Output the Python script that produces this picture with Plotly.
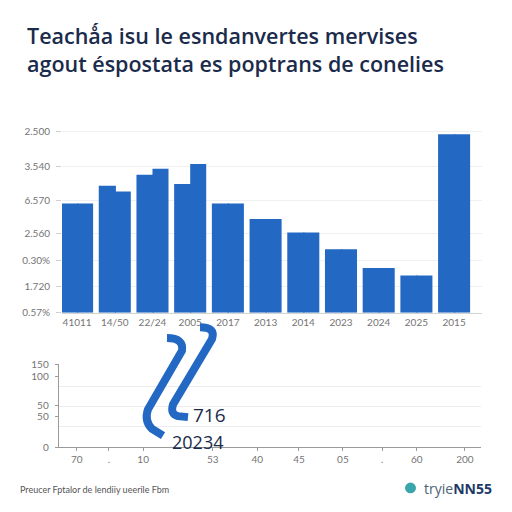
import plotly.graph_objects as go

W = H = 512

# ---- data ----
title_lines = ["Teachǻa isu le esndanvertes mervises",
               "agout éspostata es poptrans de conelies"]
top_categories = ["41011", "14/50", "22/24", "2005", "2017", "2013",
                  "2014", "2023", "2024", "2025", "2015"]
# left / right halves of each bar (equal for single bars)
top_left_values = [1505, 1752, 1902, 1775, 1505, 1292, 1105, 875, 617, 512, 2462]
top_right_values = [1505, 1672, 1987, 2050, 1505, 1292, 1105, 875, 617, 512, 2462]
top_ytick_vals = [0, 361, 720, 1099, 1550, 2013, 2500]
top_ytick_text = ["0.57%", "1.720", "0.30%", "2.560", "6.570", "3.540", "2.500"]

bottom_xtick_vals = [4.3, 11.9, 20.0, 36.5, 47.0, 56.9, 67.3, 76.6, 84.8, 96.2]
bottom_xtick_text = ["70", ".", "10", "53", "40", "45", "05", ".", "60", "200"]
bottom_ytick_vals = [0, 55.9, 75.9, 127.8, 150]
bottom_ytick_text = ["0", "50", "50", "100", "150"]
bottom_grid_vals = [36.5, 73.6, 110.1, 150]
bottom_notes = ["716", "20234"]
footer_text = "Preucer Fptalor de lendiiy ueerile Fbm"

BLUE = "#2368c3"
NAVY = "#1b2b4b"
GRAY = "#747474"


def px(x, y):
    return x / W, 1 - y / H


fig = go.Figure()
idx = list(range(len(top_categories)))
fig.add_trace(go.Bar(x=idx, y=top_left_values, width=0.455, offset=-0.425,
                     marker=dict(color=BLUE, line=dict(width=0)),
                     xaxis="x", yaxis="y", showlegend=False))
fig.add_trace(go.Bar(x=idx, y=top_right_values, width=0.425, offset=0.0,
                     marker=dict(color=BLUE, line=dict(width=0)),
                     xaxis="x", yaxis="y", showlegend=False))
fig.add_trace(go.Scatter(x=[], y=[], xaxis="x2", yaxis="y2", showlegend=False))

tickfont = dict(family="Lato, Open Sans, sans-serif", size=10, color=GRAY)

fig.update_layout(
    width=W, height=H, margin=dict(l=0, r=0, t=0, b=0),
    paper_bgcolor="white", plot_bgcolor="white", barmode="overlay",
    xaxis=dict(domain=[62 / W, 482 / W], range=[-0.40, 10.74],
               tickmode="array", tickvals=idx, ticktext=top_categories,
               tickfont=tickfont, showgrid=False, zeroline=False,
               showline=True, linecolor="#d4d4d4", linewidth=1, ticks=""),
    yaxis=dict(domain=[1 - 314 / H, 1 - 127 / H], range=[0, 2520],
               tickmode="array", tickvals=top_ytick_vals, ticktext=top_ytick_text,
               tickfont=tickfont, showgrid=True, gridcolor="#f0f0f0",
               zeroline=False, ticks="outside", ticklen=5, tickcolor="#d0d0d0",
               ticklabelstandoff=4),
    xaxis2=dict(domain=[58.7 / W, 481 / W], range=[0, 100], anchor="y2",
                tickmode="array", tickvals=bottom_xtick_vals, ticktext=bottom_xtick_text,
                tickfont=tickfont, showgrid=False, zeroline=False,
                showline=True, linecolor="#9a9a9a", linewidth=1,
                ticks="outside", ticklen=3, tickcolor="#9a9a9a"),
    yaxis2=dict(domain=[1 - 451.7 / H, 1 - 366.7 / H], range=[0, 150], anchor="x2",
                tickmode="array", tickvals=bottom_ytick_vals, ticktext=bottom_ytick_text,
                tickfont=tickfont, showgrid=False, zeroline=False,
                showline=True, linecolor="#9a9a9a", linewidth=1,
                ticks="outside", ticklen=3, tickcolor="#9a9a9a",
                ticklabelstandoff=4,
                minor=dict(tickmode="array", tickvals=bottom_grid_vals,
                           showgrid=True, gridcolor="#ececec", ticks="")),
)

# title (single text block, two lines)
x, y = px(25, 45)
fig.add_annotation(text="<br>".join(title_lines), x=x, y=y, xref="paper", yref="paper",
                   xanchor="left", yanchor="middle", align="left", showarrow=False,
                   font=dict(family="Open Sans, sans-serif", size=21.5,
                             color=NAVY, weight=600))


# decorative blue strokes in the lower panel
def path_px(cmds):
    out = []
    for c in cmds:
        if isinstance(c, str):
            out.append(c)
        else:
            x, y = px(*c)
            out.append(f"{x:.5f},{y:.5f}")
    return " ".join(out)


stroke1 = path_px(["M", (167, 340), "Q", (184, 340), (182, 353), "L", (148, 413),
                   "Q", (144, 425), (152, 433), "L", (163, 440)])
stroke2 = path_px(["M", (200, 329), "Q", (216, 329), (212, 341), "L", (173, 408),
                   "Q", (170, 418), (178, 420), "L", (188, 421)])
for p in (stroke1, stroke2):
    fig.add_shape(type="path", path=p, xref="paper", yref="paper",
                  line=dict(color=BLUE, width=8), fillcolor="rgba(0,0,0,0)")

# numbers next to the strokes
x, y = px(192, 433)
fig.add_annotation(text=bottom_notes[0], x=x, y=y, xref="paper", yref="paper",
                   xanchor="left", yanchor="bottom", showarrow=False, borderpad=0,
                   font=dict(family="Open Sans, sans-serif", size=19, color=NAVY))
x, y = px(171, 433)
fig.add_annotation(text=bottom_notes[1], x=x, y=y, xref="paper", yref="paper",
                   xanchor="left", yanchor="top", showarrow=False, borderpad=0,
                   font=dict(family="Open Sans, sans-serif", size=18, color=NAVY))

# footer
x, y = px(18, 495)
fig.add_annotation(text=footer_text, x=x, y=y, xref="paper", yref="paper",
                   xanchor="left", yanchor="middle", showarrow=False,
                   font=dict(family="Lato, sans-serif", size=9, color="#555555"))
cx0, cy0 = px(405, 488)
cx1, cy1 = px(416, 499)
fig.add_shape(type="circle", x0=cx0, y0=cy1, x1=cx1, y1=cy0, xref="paper", yref="paper",
              fillcolor="#3aa6ac", line=dict(width=0))
x, y = px(422, 494)
fig.add_annotation(text="tryie<b style='color:#1d3a66'>NN55</b>", x=x, y=y,
                   xref="paper", yref="paper", xanchor="left", yanchor="middle",
                   showarrow=False,
                   font=dict(family="Open Sans, sans-serif", size=14, color="#4d6478"))

fig.write_html("out.html")
